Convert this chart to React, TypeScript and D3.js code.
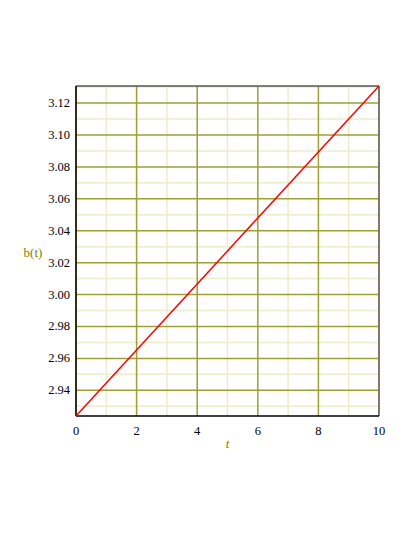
import React from "react";
import * as d3 from "d3";

// b(t) sampled over t
const tValues = [0, 10];
const bValues = [2.9239, 3.1307];

const xMajorTicks = [0, 2, 4, 6, 8, 10];
const xMinorTicks = [1, 3, 5, 7, 9];
const yMajorTicks = [2.94, 2.96, 2.98, 3.0, 3.02, 3.04, 3.06, 3.08, 3.1, 3.12];
const yMinorTicks = [2.93, 2.95, 2.97, 2.99, 3.01, 3.03, 3.05, 3.07, 3.09, 3.11, 3.13];

const W = 415;
const H = 537;
const margin = { left: 76, right: 36, top: 86, bottom: 121 };

const majorColor = "#9f9f35";
const minorColor = "#ececcf";

export default function App() {
  const x = d3
    .scaleLinear()
    .domain([0, 10])
    .range([margin.left, W - margin.right]);
  const y = d3
    .scaleLinear()
    .domain([2.9239, 3.1307])
    .range([H - margin.bottom, margin.top]);

  const pts = tValues.map((t, i) => [t, bValues[i]] as [number, number]);
  const line = d3
    .line<[number, number]>()
    .x((d) => x(d[0]))
    .y((d) => y(d[1]));

  const [x0, x1] = x.range();
  const [y0, y1] = y.range();
  const txt: React.CSSProperties = {
    fontFamily: "'Liberation Serif', 'Times New Roman', 'DejaVu Serif'",
  };

  return (
    <svg
      width={W}
      height={H}
      style={{ position: "absolute", left: 0, top: 0, background: "#fff" }}
    >
      {/* minor grid */}
      {xMinorTicks.map((t) => (
        <line key={"xm" + t} x1={x(t)} x2={x(t)} y1={y0} y2={y1} stroke={minorColor} strokeWidth={1.5} />
      ))}
      {yMinorTicks.map((v) => (
        <line key={"ym" + v} x1={x0} x2={x1} y1={y(v)} y2={y(v)} stroke={minorColor} strokeWidth={1.5} />
      ))}
      {/* major grid */}
      {xMajorTicks.map((t) => (
        <line key={"xM" + t} x1={x(t)} x2={x(t)} y1={y0} y2={y1} stroke={majorColor} strokeWidth={1.5} />
      ))}
      {yMajorTicks.map((v) => (
        <line key={"yM" + v} x1={x0} x2={x1} y1={y(v)} y2={y(v)} stroke={majorColor} strokeWidth={1.5} />
      ))}
      {/* frame */}
      <line x1={x0} x2={x1} y1={y1} y2={y1} stroke="#555" strokeWidth={1.5} />
      <line x1={x1} x2={x1} y1={y0} y2={y1} stroke="#666" strokeWidth={1.5} />
      <line x1={x0} x2={x0} y1={y0} y2={y1} stroke="#000" strokeWidth={1.5} />
      <line x1={x0} x2={x1} y1={y0} y2={y0} stroke="#000" strokeWidth={1.5} />
      {/* curve */}
      <path d={line(pts) ?? ""} fill="none" stroke="#ff0000" strokeWidth={1.5} />
      {/* tick labels */}
      {xMajorTicks.map((t) => (
        <text key={"xl" + t} x={x(t)} y={y0 + 19} textAnchor="middle" style={txt} fontSize={12.5} fill="#000">
          {t}
        </text>
      ))}
      {yMajorTicks.map((v) => (
        <text key={"yl" + v} x={x0 - 6} y={y(v) + 4} textAnchor="end" style={txt} fontSize={12.5} fill="#000">
          {v.toFixed(2)}
        </text>
      ))}
      {/* axis titles */}
      <text x={(x0 + x1) / 2} y={y0 + 32} textAnchor="middle" style={txt} fontSize={13} fontStyle="italic" fill="#808000">
        t
      </text>
      <text x={33} y={257} textAnchor="middle" style={txt} fontSize={13} fill="#808000">
        b(t)
      </text>
    </svg>
  );
}
